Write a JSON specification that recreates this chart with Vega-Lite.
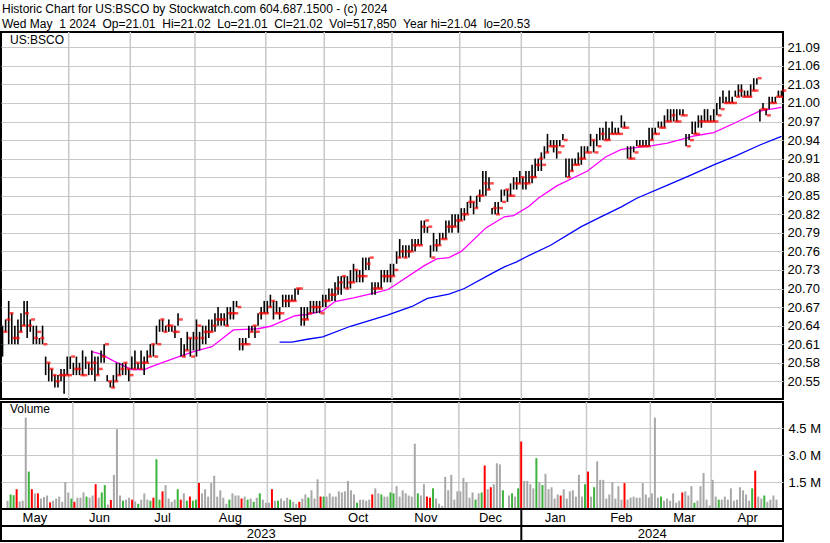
{
"$schema":"https://vega.github.io/schema/vega-lite/v6.json",
"background":"white",
"padding":{"left":0,"top":3,"right":0,"bottom":0},
"bounds":"flush",
"config":{"font":"Liberation Sans","view":{"stroke":"black","strokeWidth":2},"axis":{"labelFont":"Liberation Sans","labelFontSize":13,"labelColor":"#000000","ticks":false,"domain":false,"gridColor":"#c8c8c8","gridWidth":1}},
"title":{"text":["Historic Chart for US:BSCO by Stockwatch.com 604.687.1500 - (c) 2024","Wed May\u00a0\u00a01 2024\u00a0\u00a0Op=21.01\u00a0\u00a0Hi=21.02\u00a0\u00a0Lo=21.01\u00a0\u00a0Cl=21.02\u00a0\u00a0Vol=517,850\u00a0\u00a0Year hi=21.04\u00a0\u00a0lo=20.53"],"anchor":"start","frame":"bounds","font":"Liberation Sans","fontSize":12,"fontWeight":"normal","color":"black","lineHeight":15,"offset":-1,"dx":2},
"resolve":{"scale":{"color":"independent"}},
"datasets":{
"bars":[
{"i":0,"mo":"May","yr":"2023","h":20.64,"l":20.59,"c":20.63,"v":0.46,"k":"n"},
{"i":1,"mo":"May","yr":"2023","h":20.65,"l":20.63,"c":20.65,"v":0.81,"k":"u"},
{"i":2,"mo":"May","yr":"2023","h":20.68,"l":20.61,"c":20.66,"v":0.77,"k":"u"},
{"i":3,"mo":"May","yr":"2023","h":20.66,"l":20.61,"c":20.62,"v":1.1,"k":"d"},
{"i":4,"mo":"May","yr":"2023","h":20.64,"l":20.61,"c":20.62,"v":0.42,"k":"n"},
{"i":5,"mo":"May","yr":"2023","h":20.65,"l":20.61,"c":20.63,"v":0.46,"k":"n"},
{"i":6,"mo":"May","yr":"2023","h":20.66,"l":20.63,"c":20.64,"v":5.08,"k":"n"},
{"i":7,"mo":"May","yr":"2023","h":20.68,"l":20.64,"c":20.66,"v":2.08,"k":"u"},
{"i":8,"mo":"May","yr":"2023","h":20.68,"l":20.62,"c":20.64,"v":1.1,"k":"d"},
{"i":9,"mo":"May","yr":"2023","h":20.65,"l":20.63,"c":20.65,"v":0.87,"k":"n"},
{"i":10,"mo":"May","yr":"2023","h":20.64,"l":20.61,"c":20.62,"v":0.87,"k":"d"},
{"i":11,"mo":"May","yr":"2023","h":20.64,"l":20.61,"c":20.63,"v":0.58,"k":"n"},
{"i":12,"mo":"May","yr":"2023","h":20.62,"l":20.61,"c":20.62,"v":0.67,"k":"n"},
{"i":13,"mo":"May","yr":"2023","h":20.64,"l":20.61,"c":20.61,"v":0.75,"k":"n"},
{"i":14,"mo":"May","yr":"2023","h":20.59,"l":20.56,"c":20.58,"v":0.37,"k":"d"},
{"i":15,"mo":"May","yr":"2023","h":20.58,"l":20.55,"c":20.57,"v":0.46,"k":"n"},
{"i":16,"mo":"May","yr":"2023","h":20.57,"l":20.55,"c":20.56,"v":0.58,"k":"n"},
{"i":17,"mo":"May","yr":"2023","h":20.56,"l":20.54,"c":20.55,"v":0.69,"k":"n"},
{"i":18,"mo":"May","yr":"2023","h":20.56,"l":20.54,"c":20.56,"v":0.40,"k":"n"},
{"i":19,"mo":"May","yr":"2023","h":20.57,"l":20.55,"c":20.56,"v":1.5,"k":"n"},
{"i":20,"mo":"May","yr":"2023","h":20.57,"l":20.53,"c":20.56,"v":0.92,"k":"n"},
{"i":21,"mo":"May","yr":"2023","h":20.59,"l":20.56,"c":20.56,"v":0.58,"k":"u"},
{"i":22,"mo":"Jun","yr":"2023","h":20.59,"l":20.57,"c":20.59,"v":0.40,"k":"d"},
{"i":23,"mo":"Jun","yr":"2023","h":20.58,"l":20.56,"c":20.57,"v":0.63,"k":"n"},
{"i":24,"mo":"Jun","yr":"2023","h":20.59,"l":20.56,"c":20.57,"v":0.63,"k":"n"},
{"i":25,"mo":"Jun","yr":"2023","h":20.58,"l":20.56,"c":20.56,"v":0.92,"k":"n"},
{"i":26,"mo":"Jun","yr":"2023","h":20.60,"l":20.56,"c":20.56,"v":0.69,"k":"u"},
{"i":27,"mo":"Jun","yr":"2023","h":20.59,"l":20.57,"c":20.58,"v":0.63,"k":"n"},
{"i":28,"mo":"Jun","yr":"2023","h":20.58,"l":20.56,"c":20.57,"v":0.75,"k":"n"},
{"i":29,"mo":"Jun","yr":"2023","h":20.60,"l":20.56,"c":20.58,"v":1.38,"k":"d"},
{"i":30,"mo":"Jun","yr":"2023","h":20.59,"l":20.55,"c":20.56,"v":0.63,"k":"n"},
{"i":31,"mo":"Jun","yr":"2023","h":20.59,"l":20.56,"c":20.57,"v":0.92,"k":"u"},
{"i":32,"mo":"Jun","yr":"2023","h":20.60,"l":20.58,"c":20.59,"v":1.33,"k":"u"},
{"i":33,"mo":"Jun","yr":"2023","h":20.61,"l":20.58,"c":20.61,"v":0.25,"k":"n"},
{"i":34,"mo":"Jun","yr":"2023","h":20.56,"l":20.55,"c":20.55,"v":0.50,"k":"d"},
{"i":35,"mo":"Jun","yr":"2023","h":20.55,"l":20.54,"c":20.54,"v":1.9,"k":"n"},
{"i":36,"mo":"Jun","yr":"2023","h":20.56,"l":20.54,"c":20.55,"v":4.44,"k":"n"},
{"i":37,"mo":"Jun","yr":"2023","h":20.58,"l":20.55,"c":20.56,"v":0.75,"k":"n"},
{"i":38,"mo":"Jun","yr":"2023","h":20.58,"l":20.56,"c":20.57,"v":0.46,"k":"u"},
{"i":39,"mo":"Jun","yr":"2023","h":20.58,"l":20.56,"c":20.58,"v":0.52,"k":"n"},
{"i":40,"mo":"Jun","yr":"2023","h":20.58,"l":20.56,"c":20.57,"v":0.63,"k":"n"},
{"i":41,"mo":"Jun","yr":"2023","h":20.57,"l":20.55,"c":20.56,"v":0.52,"k":"d"},
{"i":42,"mo":"Jul","yr":"2023","h":20.59,"l":20.57,"c":20.57,"v":0.42,"k":"n"},
{"i":43,"mo":"Jul","yr":"2023","h":20.60,"l":20.57,"c":20.58,"v":0.29,"k":"u"},
{"i":44,"mo":"Jul","yr":"2023","h":20.58,"l":20.57,"c":20.57,"v":0.52,"k":"n"},
{"i":45,"mo":"Jul","yr":"2023","h":20.60,"l":20.57,"c":20.58,"v":0.87,"k":"n"},
{"i":46,"mo":"Jul","yr":"2023","h":20.59,"l":20.56,"c":20.58,"v":0.52,"k":"n"},
{"i":47,"mo":"Jul","yr":"2023","h":20.60,"l":20.58,"c":20.59,"v":0.46,"k":"u"},
{"i":48,"mo":"Jul","yr":"2023","h":20.61,"l":20.59,"c":20.61,"v":0.63,"k":"d"},
{"i":49,"mo":"Jul","yr":"2023","h":20.61,"l":20.59,"c":20.59,"v":2.77,"k":"u"},
{"i":50,"mo":"Jul","yr":"2023","h":20.64,"l":20.61,"c":20.61,"v":0.52,"k":"u"},
{"i":51,"mo":"Jul","yr":"2023","h":20.65,"l":20.63,"c":20.65,"v":0.98,"k":"d"},
{"i":52,"mo":"Jul","yr":"2023","h":20.65,"l":20.63,"c":20.63,"v":1.33,"k":"n"},
{"i":53,"mo":"Jul","yr":"2023","h":20.64,"l":20.63,"c":20.64,"v":0.58,"k":"n"},
{"i":54,"mo":"Jul","yr":"2023","h":20.65,"l":20.63,"c":20.64,"v":0.40,"k":"n"},
{"i":55,"mo":"Jul","yr":"2023","h":20.64,"l":20.63,"c":20.63,"v":0.52,"k":"n"},
{"i":56,"mo":"Jul","yr":"2023","h":20.64,"l":20.62,"c":20.63,"v":1.1,"k":"u"},
{"i":57,"mo":"Jul","yr":"2023","h":20.66,"l":20.64,"c":20.65,"v":0.52,"k":"d"},
{"i":58,"mo":"Jul","yr":"2023","h":20.62,"l":20.59,"c":20.59,"v":0.87,"k":"n"},
{"i":59,"mo":"Jul","yr":"2023","h":20.61,"l":20.59,"c":20.60,"v":0.46,"k":"u"},
{"i":60,"mo":"Jul","yr":"2023","h":20.63,"l":20.60,"c":20.62,"v":0.69,"k":"d"},
{"i":61,"mo":"Jul","yr":"2023","h":20.62,"l":20.59,"c":20.59,"v":0.46,"k":"u"},
{"i":62,"mo":"Jul","yr":"2023","h":20.63,"l":20.60,"c":20.62,"v":0.52,"k":"u"},
{"i":63,"mo":"Aug","yr":"2023","h":20.65,"l":20.59,"c":20.64,"v":1.44,"k":"d"},
{"i":64,"mo":"Aug","yr":"2023","h":20.63,"l":20.60,"c":20.62,"v":0.87,"k":"n"},
{"i":65,"mo":"Aug","yr":"2023","h":20.64,"l":20.61,"c":20.63,"v":1.1,"k":"n"},
{"i":66,"mo":"Aug","yr":"2023","h":20.64,"l":20.61,"c":20.63,"v":0.69,"k":"n"},
{"i":67,"mo":"Aug","yr":"2023","h":20.65,"l":20.62,"c":20.63,"v":1.44,"k":"n"},
{"i":68,"mo":"Aug","yr":"2023","h":20.65,"l":20.63,"c":20.64,"v":1.85,"k":"n"},
{"i":69,"mo":"Aug","yr":"2023","h":20.66,"l":20.63,"c":20.65,"v":0.69,"k":"n"},
{"i":70,"mo":"Aug","yr":"2023","h":20.67,"l":20.64,"c":20.65,"v":1.04,"k":"n"},
{"i":71,"mo":"Aug","yr":"2023","h":20.66,"l":20.64,"c":20.65,"v":0.63,"k":"n"},
{"i":72,"mo":"Aug","yr":"2023","h":20.66,"l":20.64,"c":20.64,"v":0.29,"k":"n"},
{"i":73,"mo":"Aug","yr":"2023","h":20.67,"l":20.64,"c":20.66,"v":0.52,"k":"u"},
{"i":74,"mo":"Aug","yr":"2023","h":20.67,"l":20.65,"c":20.66,"v":0.87,"k":"n"},
{"i":75,"mo":"Aug","yr":"2023","h":20.68,"l":20.65,"c":20.66,"v":0.75,"k":"n"},
{"i":76,"mo":"Aug","yr":"2023","h":20.68,"l":20.67,"c":20.67,"v":0.75,"k":"n"},
{"i":77,"mo":"Aug","yr":"2023","h":20.62,"l":20.60,"c":20.61,"v":0.58,"k":"d"},
{"i":78,"mo":"Aug","yr":"2023","h":20.62,"l":20.60,"c":20.61,"v":0.69,"k":"n"},
{"i":79,"mo":"Aug","yr":"2023","h":20.62,"l":20.61,"c":20.61,"v":0.52,"k":"u"},
{"i":80,"mo":"Aug","yr":"2023","h":20.64,"l":20.62,"c":20.63,"v":0.58,"k":"n"},
{"i":81,"mo":"Aug","yr":"2023","h":20.64,"l":20.63,"c":20.64,"v":0.40,"k":"u"},
{"i":82,"mo":"Aug","yr":"2023","h":20.64,"l":20.62,"c":20.63,"v":0.63,"k":"n"},
{"i":83,"mo":"Aug","yr":"2023","h":20.66,"l":20.64,"c":20.66,"v":0.87,"k":"u"},
{"i":84,"mo":"Aug","yr":"2023","h":20.67,"l":20.65,"c":20.66,"v":0.52,"k":"n"},
{"i":85,"mo":"Aug","yr":"2023","h":20.68,"l":20.66,"c":20.66,"v":0.35,"k":"n"},
{"i":86,"mo":"Sep","yr":"2023","h":20.68,"l":20.66,"c":20.67,"v":0.35,"k":"n"},
{"i":87,"mo":"Sep","yr":"2023","h":20.69,"l":20.67,"c":20.68,"v":1.1,"k":"d"},
{"i":88,"mo":"Sep","yr":"2023","h":20.68,"l":20.65,"c":20.66,"v":0.46,"k":"n"},
{"i":89,"mo":"Sep","yr":"2023","h":20.68,"l":20.66,"c":20.66,"v":0.46,"k":"u"},
{"i":90,"mo":"Sep","yr":"2023","h":20.67,"l":20.65,"c":20.66,"v":0.58,"k":"n"},
{"i":91,"mo":"Sep","yr":"2023","h":20.69,"l":20.67,"c":20.68,"v":0.46,"k":"n"},
{"i":92,"mo":"Sep","yr":"2023","h":20.69,"l":20.67,"c":20.68,"v":0.63,"k":"n"},
{"i":93,"mo":"Sep","yr":"2023","h":20.69,"l":20.67,"c":20.68,"v":0.52,"k":"u"},
{"i":94,"mo":"Sep","yr":"2023","h":20.69,"l":20.68,"c":20.68,"v":0.40,"k":"n"},
{"i":95,"mo":"Sep","yr":"2023","h":20.70,"l":20.68,"c":20.70,"v":0.29,"k":"n"},
{"i":96,"mo":"Sep","yr":"2023","h":20.70,"l":20.69,"c":20.70,"v":0.40,"k":"d"},
{"i":97,"mo":"Sep","yr":"2023","h":20.67,"l":20.64,"c":20.65,"v":0.58,"k":"n"},
{"i":98,"mo":"Sep","yr":"2023","h":20.67,"l":20.64,"c":20.65,"v":0.81,"k":"n"},
{"i":99,"mo":"Sep","yr":"2023","h":20.67,"l":20.65,"c":20.66,"v":0.63,"k":"u"},
{"i":100,"mo":"Sep","yr":"2023","h":20.68,"l":20.66,"c":20.67,"v":1.04,"k":"n"},
{"i":101,"mo":"Sep","yr":"2023","h":20.68,"l":20.66,"c":20.67,"v":0.58,"k":"n"},
{"i":102,"mo":"Sep","yr":"2023","h":20.68,"l":20.66,"c":20.67,"v":1.65,"k":"n"},
{"i":103,"mo":"Sep","yr":"2023","h":20.68,"l":20.66,"c":20.66,"v":0.69,"k":"d"},
{"i":104,"mo":"Sep","yr":"2023","h":20.69,"l":20.67,"c":20.68,"v":0.69,"k":"u"},
{"i":105,"mo":"Oct","yr":"2023","h":20.69,"l":20.67,"c":20.68,"v":0.69,"k":"n"},
{"i":106,"mo":"Oct","yr":"2023","h":20.70,"l":20.68,"c":20.69,"v":0.87,"k":"n"},
{"i":107,"mo":"Oct","yr":"2023","h":20.70,"l":20.68,"c":20.69,"v":0.69,"k":"n"},
{"i":108,"mo":"Oct","yr":"2023","h":20.71,"l":20.68,"c":20.70,"v":0.69,"k":"n"},
{"i":109,"mo":"Oct","yr":"2023","h":20.72,"l":20.69,"c":20.71,"v":0.98,"k":"n"},
{"i":110,"mo":"Oct","yr":"2023","h":20.72,"l":20.69,"c":20.72,"v":0.92,"k":"n"},
{"i":111,"mo":"Oct","yr":"2023","h":20.72,"l":20.70,"c":20.70,"v":0.98,"k":"n"},
{"i":112,"mo":"Oct","yr":"2023","h":20.72,"l":20.70,"c":20.71,"v":1.56,"k":"n"},
{"i":113,"mo":"Oct","yr":"2023","h":20.73,"l":20.70,"c":20.71,"v":1.04,"k":"n"},
{"i":114,"mo":"Oct","yr":"2023","h":20.74,"l":20.71,"c":20.73,"v":0.81,"k":"n"},
{"i":115,"mo":"Oct","yr":"2023","h":20.73,"l":20.71,"c":20.72,"v":0.35,"k":"u"},
{"i":116,"mo":"Oct","yr":"2023","h":20.73,"l":20.71,"c":20.72,"v":0.52,"k":"n"},
{"i":117,"mo":"Oct","yr":"2023","h":20.75,"l":20.71,"c":20.72,"v":0.52,"k":"n"},
{"i":118,"mo":"Oct","yr":"2023","h":20.75,"l":20.73,"c":20.74,"v":0.46,"k":"n"},
{"i":119,"mo":"Oct","yr":"2023","h":20.75,"l":20.73,"c":20.75,"v":0.52,"k":"n"},
{"i":120,"mo":"Oct","yr":"2023","h":20.71,"l":20.69,"c":20.70,"v":0.81,"k":"d"},
{"i":121,"mo":"Oct","yr":"2023","h":20.71,"l":20.69,"c":20.70,"v":1.15,"k":"n"},
{"i":122,"mo":"Oct","yr":"2023","h":20.71,"l":20.70,"c":20.70,"v":0.87,"k":"n"},
{"i":123,"mo":"Oct","yr":"2023","h":20.73,"l":20.70,"c":20.72,"v":0.81,"k":"u"},
{"i":124,"mo":"Oct","yr":"2023","h":20.73,"l":20.71,"c":20.72,"v":0.69,"k":"n"},
{"i":125,"mo":"Oct","yr":"2023","h":20.73,"l":20.71,"c":20.72,"v":0.69,"k":"n"},
{"i":126,"mo":"Oct","yr":"2023","h":20.74,"l":20.71,"c":20.72,"v":0.92,"k":"u"},
{"i":127,"mo":"Nov","yr":"2023","h":20.74,"l":20.72,"c":20.73,"v":0.87,"k":"u"},
{"i":128,"mo":"Nov","yr":"2023","h":20.76,"l":20.74,"c":20.75,"v":1.27,"k":"n"},
{"i":129,"mo":"Nov","yr":"2023","h":20.78,"l":20.75,"c":20.76,"v":0.69,"k":"n"},
{"i":130,"mo":"Nov","yr":"2023","h":20.77,"l":20.75,"c":20.75,"v":1.04,"k":"n"},
{"i":131,"mo":"Nov","yr":"2023","h":20.77,"l":20.75,"c":20.76,"v":0.87,"k":"n"},
{"i":132,"mo":"Nov","yr":"2023","h":20.77,"l":20.75,"c":20.76,"v":0.75,"k":"n"},
{"i":133,"mo":"Nov","yr":"2023","h":20.78,"l":20.76,"c":20.77,"v":0.69,"k":"n"},
{"i":134,"mo":"Nov","yr":"2023","h":20.78,"l":20.76,"c":20.77,"v":3.63,"k":"n"},
{"i":135,"mo":"Nov","yr":"2023","h":20.78,"l":20.77,"c":20.77,"v":0.87,"k":"u"},
{"i":136,"mo":"Nov","yr":"2023","h":20.81,"l":20.77,"c":20.80,"v":0.75,"k":"n"},
{"i":137,"mo":"Nov","yr":"2023","h":20.81,"l":20.79,"c":20.81,"v":1.38,"k":"n"},
{"i":138,"mo":"Nov","yr":"2023","h":20.80,"l":20.79,"c":20.80,"v":0.69,"k":"d"},
{"i":139,"mo":"Nov","yr":"2023","h":20.77,"l":20.75,"c":20.75,"v":0.63,"k":"d"},
{"i":140,"mo":"Nov","yr":"2023","h":20.79,"l":20.76,"c":20.77,"v":1.15,"k":"u"},
{"i":141,"mo":"Nov","yr":"2023","h":20.78,"l":20.76,"c":20.77,"v":0.58,"k":"n"},
{"i":142,"mo":"Nov","yr":"2023","h":20.79,"l":20.77,"c":20.78,"v":0.30,"k":"n"},
{"i":143,"mo":"Nov","yr":"2023","h":20.79,"l":20.78,"c":20.78,"v":0.17,"k":"n"},
{"i":144,"mo":"Nov","yr":"2023","h":20.81,"l":20.78,"c":20.80,"v":1.79,"k":"n"},
{"i":145,"mo":"Nov","yr":"2023","h":20.81,"l":20.79,"c":20.80,"v":1.04,"k":"n"},
{"i":146,"mo":"Nov","yr":"2023","h":20.82,"l":20.79,"c":20.80,"v":1.9,"k":"n"},
{"i":147,"mo":"Nov","yr":"2023","h":20.82,"l":20.80,"c":20.81,"v":0.52,"k":"n"},
{"i":148,"mo":"Nov","yr":"2023","h":20.82,"l":20.79,"c":20.81,"v":0.98,"k":"n"},
{"i":149,"mo":"Dec","yr":"2023","h":20.83,"l":20.81,"c":20.82,"v":0.98,"k":"n"},
{"i":150,"mo":"Dec","yr":"2023","h":20.83,"l":20.81,"c":20.82,"v":1.73,"k":"n"},
{"i":151,"mo":"Dec","yr":"2023","h":20.84,"l":20.82,"c":20.84,"v":1.5,"k":"n"},
{"i":152,"mo":"Dec","yr":"2023","h":20.85,"l":20.83,"c":20.84,"v":0.63,"k":"n"},
{"i":153,"mo":"Dec","yr":"2023","h":20.84,"l":20.82,"c":20.83,"v":0.92,"k":"n"},
{"i":154,"mo":"Dec","yr":"2023","h":20.85,"l":20.83,"c":20.85,"v":0.52,"k":"u"},
{"i":155,"mo":"Dec","yr":"2023","h":20.86,"l":20.84,"c":20.85,"v":0.87,"k":"n"},
{"i":156,"mo":"Dec","yr":"2023","h":20.89,"l":20.85,"c":20.87,"v":0.92,"k":"u"},
{"i":157,"mo":"Dec","yr":"2023","h":20.89,"l":20.85,"c":20.86,"v":2.42,"k":"d"},
{"i":158,"mo":"Dec","yr":"2023","h":20.88,"l":20.86,"c":20.87,"v":1.1,"k":"n"},
{"i":159,"mo":"Dec","yr":"2023","h":20.83,"l":20.82,"c":20.83,"v":1.21,"k":"d"},
{"i":160,"mo":"Dec","yr":"2023","h":20.84,"l":20.82,"c":20.82,"v":1.38,"k":"n"},
{"i":161,"mo":"Dec","yr":"2023","h":20.84,"l":20.82,"c":20.83,"v":2.54,"k":"n"},
{"i":162,"mo":"Dec","yr":"2023","h":20.86,"l":20.84,"c":20.84,"v":2.48,"k":"n"},
{"i":163,"mo":"Dec","yr":"2023","h":20.86,"l":20.85,"c":20.86,"v":1.04,"k":"u"},
{"i":164,"mo":"Dec","yr":"2023","h":20.86,"l":20.84,"c":20.85,"v":0,"k":"n"},
{"i":165,"mo":"Dec","yr":"2023","h":20.87,"l":20.85,"c":20.85,"v":0.75,"k":"n"},
{"i":166,"mo":"Dec","yr":"2023","h":20.88,"l":20.86,"c":20.87,"v":0.87,"k":"u"},
{"i":167,"mo":"Dec","yr":"2023","h":20.88,"l":20.86,"c":20.87,"v":0.69,"k":"n"},
{"i":168,"mo":"Dec","yr":"2023","h":20.89,"l":20.87,"c":20.88,"v":1.15,"k":"u"},
{"i":169,"mo":"Jan","yr":"2024","h":20.88,"l":20.86,"c":20.87,"v":3.75,"k":"d"},
{"i":170,"mo":"Jan","yr":"2024","h":20.89,"l":20.86,"c":20.87,"v":1.56,"k":"n"},
{"i":171,"mo":"Jan","yr":"2024","h":20.89,"l":20.87,"c":20.88,"v":1.56,"k":"n"},
{"i":172,"mo":"Jan","yr":"2024","h":20.90,"l":20.87,"c":20.88,"v":1.38,"k":"n"},
{"i":173,"mo":"Jan","yr":"2024","h":20.91,"l":20.88,"c":20.90,"v":1.15,"k":"n"},
{"i":174,"mo":"Jan","yr":"2024","h":20.91,"l":20.89,"c":20.91,"v":2.83,"k":"u"},
{"i":175,"mo":"Jan","yr":"2024","h":20.92,"l":20.89,"c":20.90,"v":1.5,"k":"n"},
{"i":176,"mo":"Jan","yr":"2024","h":20.93,"l":20.91,"c":20.92,"v":1.33,"k":"u"},
{"i":177,"mo":"Jan","yr":"2024","h":20.95,"l":20.92,"c":20.93,"v":1.96,"k":"n"},
{"i":178,"mo":"Jan","yr":"2024","h":20.94,"l":20.93,"c":20.93,"v":1.1,"k":"n"},
{"i":179,"mo":"Jan","yr":"2024","h":20.94,"l":20.92,"c":20.93,"v":1.21,"k":"n"},
{"i":180,"mo":"Jan","yr":"2024","h":20.94,"l":20.91,"c":20.92,"v":0.58,"k":"n"},
{"i":181,"mo":"Jan","yr":"2024","h":20.94,"l":20.93,"c":20.93,"v":0.81,"k":"n"},
{"i":182,"mo":"Jan","yr":"2024","h":20.95,"l":20.94,"c":20.94,"v":0.75,"k":"d"},
{"i":183,"mo":"Jan","yr":"2024","h":20.91,"l":20.88,"c":20.88,"v":1.1,"k":"n"},
{"i":184,"mo":"Jan","yr":"2024","h":20.91,"l":20.88,"c":20.89,"v":0.58,"k":"n"},
{"i":185,"mo":"Jan","yr":"2024","h":20.91,"l":20.89,"c":20.90,"v":0.98,"k":"n"},
{"i":186,"mo":"Jan","yr":"2024","h":20.91,"l":20.90,"c":20.90,"v":1.04,"k":"n"},
{"i":187,"mo":"Jan","yr":"2024","h":20.92,"l":20.90,"c":20.91,"v":0.69,"k":"n"},
{"i":188,"mo":"Jan","yr":"2024","h":20.93,"l":20.90,"c":20.91,"v":1.9,"k":"n"},
{"i":189,"mo":"Jan","yr":"2024","h":20.93,"l":20.91,"c":20.92,"v":0.69,"k":"n"},
{"i":190,"mo":"Jan","yr":"2024","h":20.93,"l":20.92,"c":20.92,"v":1.38,"k":"u"},
{"i":191,"mo":"Feb","yr":"2024","h":20.95,"l":20.93,"c":20.94,"v":2.08,"k":"d"},
{"i":192,"mo":"Feb","yr":"2024","h":20.94,"l":20.92,"c":20.92,"v":0.69,"k":"n"},
{"i":193,"mo":"Feb","yr":"2024","h":20.95,"l":20.93,"c":20.93,"v":1.21,"k":"u"},
{"i":194,"mo":"Feb","yr":"2024","h":20.96,"l":20.94,"c":20.95,"v":2.65,"k":"n"},
{"i":195,"mo":"Feb","yr":"2024","h":20.96,"l":20.94,"c":20.94,"v":1.62,"k":"n"},
{"i":196,"mo":"Feb","yr":"2024","h":20.97,"l":20.94,"c":20.94,"v":1.62,"k":"n"},
{"i":197,"mo":"Feb","yr":"2024","h":20.96,"l":20.94,"c":20.95,"v":0.58,"k":"n"},
{"i":198,"mo":"Feb","yr":"2024","h":20.97,"l":20.95,"c":20.95,"v":0.81,"k":"n"},
{"i":199,"mo":"Feb","yr":"2024","h":20.96,"l":20.95,"c":20.95,"v":1.5,"k":"n"},
{"i":200,"mo":"Feb","yr":"2024","h":20.96,"l":20.95,"c":20.95,"v":0.58,"k":"n"},
{"i":201,"mo":"Feb","yr":"2024","h":20.98,"l":20.96,"c":20.96,"v":1.27,"k":"n"},
{"i":202,"mo":"Feb","yr":"2024","h":20.97,"l":20.96,"c":20.96,"v":0.52,"k":"n"},
{"i":203,"mo":"Feb","yr":"2024","h":20.93,"l":20.91,"c":20.91,"v":1.44,"k":"d"},
{"i":204,"mo":"Feb","yr":"2024","h":20.93,"l":20.91,"c":20.91,"v":0.52,"k":"n"},
{"i":205,"mo":"Feb","yr":"2024","h":20.93,"l":20.92,"c":20.92,"v":0.63,"k":"n"},
{"i":206,"mo":"Feb","yr":"2024","h":20.94,"l":20.93,"c":20.93,"v":0.69,"k":"n"},
{"i":207,"mo":"Feb","yr":"2024","h":20.94,"l":20.93,"c":20.93,"v":0.63,"k":"n"},
{"i":208,"mo":"Feb","yr":"2024","h":20.94,"l":20.93,"c":20.93,"v":0.63,"k":"n"},
{"i":209,"mo":"Feb","yr":"2024","h":20.94,"l":20.93,"c":20.93,"v":1.44,"k":"n"},
{"i":210,"mo":"Feb","yr":"2024","h":20.96,"l":20.93,"c":20.94,"v":0.81,"k":"n"},
{"i":211,"mo":"Feb","yr":"2024","h":20.96,"l":20.94,"c":20.95,"v":0.63,"k":"n"},
{"i":212,"mo":"Mar","yr":"2024","h":20.96,"l":20.95,"c":20.95,"v":0.87,"k":"n"},
{"i":213,"mo":"Mar","yr":"2024","h":20.97,"l":20.96,"c":20.96,"v":5.08,"k":"n"},
{"i":214,"mo":"Mar","yr":"2024","h":20.97,"l":20.96,"c":20.96,"v":0.63,"k":"n"},
{"i":215,"mo":"Mar","yr":"2024","h":20.98,"l":20.96,"c":20.97,"v":0.69,"k":"u"},
{"i":216,"mo":"Mar","yr":"2024","h":20.99,"l":20.97,"c":20.97,"v":0.46,"k":"n"},
{"i":217,"mo":"Mar","yr":"2024","h":20.99,"l":20.97,"c":20.98,"v":0.58,"k":"n"},
{"i":218,"mo":"Mar","yr":"2024","h":20.99,"l":20.97,"c":20.97,"v":0.46,"k":"n"},
{"i":219,"mo":"Mar","yr":"2024","h":20.99,"l":20.97,"c":20.97,"v":0.87,"k":"n"},
{"i":220,"mo":"Mar","yr":"2024","h":20.99,"l":20.98,"c":20.98,"v":0.35,"k":"n"},
{"i":221,"mo":"Mar","yr":"2024","h":20.99,"l":20.98,"c":20.98,"v":0.46,"k":"n"},
{"i":222,"mo":"Mar","yr":"2024","h":20.95,"l":20.93,"c":20.93,"v":0.92,"k":"d"},
{"i":223,"mo":"Mar","yr":"2024","h":20.95,"l":20.94,"c":20.94,"v":0.98,"k":"n"},
{"i":224,"mo":"Mar","yr":"2024","h":20.97,"l":20.95,"c":20.95,"v":0.75,"k":"n"},
{"i":225,"mo":"Mar","yr":"2024","h":20.97,"l":20.95,"c":20.95,"v":1.27,"k":"n"},
{"i":226,"mo":"Mar","yr":"2024","h":20.98,"l":20.96,"c":20.97,"v":0.35,"k":"u"},
{"i":227,"mo":"Mar","yr":"2024","h":20.98,"l":20.96,"c":20.97,"v":0.46,"k":"n"},
{"i":228,"mo":"Mar","yr":"2024","h":20.99,"l":20.97,"c":20.97,"v":1.27,"k":"n"},
{"i":229,"mo":"Mar","yr":"2024","h":20.99,"l":20.97,"c":20.97,"v":2.0,"k":"n"},
{"i":230,"mo":"Mar","yr":"2024","h":20.98,"l":20.97,"c":20.97,"v":0.52,"k":"n"},
{"i":231,"mo":"Mar","yr":"2024","h":20.99,"l":20.97,"c":20.97,"v":0.2,"k":"n"},
{"i":232,"mo":"Apr","yr":"2024","h":21.00,"l":20.98,"c":20.98,"v":1.62,"k":"n"},
{"i":233,"mo":"Apr","yr":"2024","h":21.01,"l":20.99,"c":20.99,"v":0.69,"k":"n"},
{"i":234,"mo":"Apr","yr":"2024","h":21.02,"l":21.00,"c":21.00,"v":0.52,"k":"u"},
{"i":235,"mo":"Apr","yr":"2024","h":21.01,"l":21.00,"c":21.00,"v":0.52,"k":"n"},
{"i":236,"mo":"Apr","yr":"2024","h":21.02,"l":21.00,"c":21.00,"v":0.69,"k":"n"},
{"i":237,"mo":"Apr","yr":"2024","h":21.01,"l":21.00,"c":21.00,"v":0.52,"k":"n"},
{"i":238,"mo":"Apr","yr":"2024","h":21.02,"l":21.01,"c":21.01,"v":1.15,"k":"n"},
{"i":239,"mo":"Apr","yr":"2024","h":21.03,"l":21.01,"c":21.02,"v":0.46,"k":"n"},
{"i":240,"mo":"Apr","yr":"2024","h":21.03,"l":21.01,"c":21.01,"v":0.52,"k":"n"},
{"i":241,"mo":"Apr","yr":"2024","h":21.02,"l":21.01,"c":21.01,"v":1.21,"k":"n"},
{"i":242,"mo":"Apr","yr":"2024","h":21.02,"l":21.01,"c":21.01,"v":1.04,"k":"n"},
{"i":243,"mo":"Apr","yr":"2024","h":21.03,"l":21.01,"c":21.02,"v":0.81,"k":"n"},
{"i":244,"mo":"Apr","yr":"2024","h":21.04,"l":21.02,"c":21.02,"v":0.46,"k":"n"},
{"i":245,"mo":"Apr","yr":"2024","h":21.04,"l":21.03,"c":21.04,"v":1.15,"k":"u"},
{"i":246,"mo":"Apr","yr":"2024","h":20.99,"l":20.97,"c":20.99,"v":2.13,"k":"d"},
{"i":247,"mo":"Apr","yr":"2024","h":21.00,"l":20.99,"c":20.99,"v":0.69,"k":"n"},
{"i":248,"mo":"Apr","yr":"2024","h":20.99,"l":20.98,"c":20.98,"v":0.58,"k":"n"},
{"i":249,"mo":"Apr","yr":"2024","h":21.01,"l":20.99,"c":21.00,"v":0.75,"k":"u"},
{"i":250,"mo":"Apr","yr":"2024","h":21.01,"l":21.00,"c":21.00,"v":0.40,"k":"n"},
{"i":251,"mo":"Apr","yr":"2024","h":21.01,"l":21.00,"c":21.01,"v":0.52,"k":"n"},
{"i":252,"mo":"Apr","yr":"2024","h":21.02,"l":21.01,"c":21.01,"v":0.75,"k":"n"},
{"i":253,"mo":"May","yr":"2024","h":21.02,"l":21.01,"c":21.02,"v":0.52,"k":"n"}
],
"ma":[
{"i":29,"p":20.598,"s":"m"},{"i":32,"p":20.594,"s":"m"},{"i":36,"p":20.583,"s":"m"},{"i":42,"p":20.569,"s":"m"},{"i":46,"p":20.569,"s":"m"},{"i":49,"p":20.575,"s":"m"},{"i":55,"p":20.586,"s":"m"},{"i":62,"p":20.598,"s":"m"},{"i":68,"p":20.606,"s":"m"},{"i":75,"p":20.633,"s":"m"},{"i":83,"p":20.635,"s":"m"},{"i":87,"p":20.639,"s":"m"},{"i":95,"p":20.656,"s":"m"},{"i":99,"p":20.658,"s":"m"},{"i":104,"p":20.664,"s":"m"},{"i":108,"p":20.679,"s":"m"},{"i":114,"p":20.685,"s":"m"},{"i":121,"p":20.693,"s":"m"},{"i":125,"p":20.698,"s":"m"},{"i":127,"p":20.704,"s":"m"},{"i":137,"p":20.737,"s":"m"},{"i":141,"p":20.748,"s":"m"},{"i":145,"p":20.750,"s":"m"},{"i":149,"p":20.760,"s":"m"},{"i":157,"p":20.798,"s":"m"},{"i":163,"p":20.816,"s":"m"},{"i":166,"p":20.818,"s":"m"},{"i":171,"p":20.833,"s":"m"},{"i":174,"p":20.846,"s":"m"},{"i":180,"p":20.866,"s":"m"},{"i":190,"p":20.890,"s":"m"},{"i":196,"p":20.913,"s":"m"},{"i":201,"p":20.925,"s":"m"},{"i":211,"p":20.931,"s":"m"},{"i":216,"p":20.935,"s":"m"},{"i":225,"p":20.947,"s":"m"},{"i":231,"p":20.952,"s":"m"},{"i":238,"p":20.968,"s":"m"},{"i":246,"p":20.987,"s":"m"},{"i":253,"p":20.993,"s":"m"},
{"i":90,"p":20.6135,"s":"b"},{"i":94,"p":20.6135,"s":"b"},{"i":99,"p":20.618,"s":"b"},{"i":104,"p":20.622,"s":"b"},{"i":113,"p":20.639,"s":"b"},{"i":125,"p":20.657,"s":"b"},{"i":133,"p":20.671,"s":"b"},{"i":138,"p":20.684,"s":"b"},{"i":145,"p":20.691,"s":"b"},{"i":150,"p":20.700,"s":"b"},{"i":159,"p":20.7245,"s":"b"},{"i":163,"p":20.735,"s":"b"},{"i":167,"p":20.743,"s":"b"},{"i":170,"p":20.751,"s":"b"},{"i":178,"p":20.770,"s":"b"},{"i":188,"p":20.800,"s":"b"},{"i":194,"p":20.815,"s":"b"},{"i":201,"p":20.832,"s":"b"},{"i":206,"p":20.846,"s":"b"},{"i":216,"p":20.867,"s":"b"},{"i":223,"p":20.882,"s":"b"},{"i":231,"p":20.900,"s":"b"},{"i":238,"p":20.914,"s":"b"},{"i":246,"p":20.932,"s":"b"},{"i":253,"p":20.946,"s":"b"}
]
},
"spacing":3,
"vconcat":[
{
"width":782,"height":367,
"title":{"text":"US:BSCO","anchor":"start","offset":-16,"dx":9,"fontSize":12,"fontWeight":"normal","font":"Liberation Sans","color":"black"},
"layer":[
{"data":{"name":"bars"},
"transform":[{"aggregate":[{"op":"min","field":"i","as":"mi"},{"op":"count","as":"n"}],"groupby":["mo","yr"]},{"filter":"datum.mi > 0 && datum.n > 1"}],
"mark":{"type":"rule","color":"#c8c8c8","strokeWidth":1.5,"xOffset":-1.54},
"encoding":{"x":{"field":"mi","type":"quantitative","scale":{"domain":[-0.5,253.5],"nice":false,"zero":false},"axis":null}}},
{"data":{"name":"ma"},
"mark":{"type":"line","strokeWidth":1.3},
"encoding":{"x":{"field":"i","type":"quantitative","scale":{"domain":[-0.5,253.5],"nice":false,"zero":false},"axis":null},
"y":{"field":"p","type":"quantitative","scale":{"domain":[20.5214,21.1147],"nice":false,"zero":false},"axis":{"orient":"right","values":[20.55,20.58,20.61,20.64,20.67,20.70,20.73,20.76,20.79,20.82,20.85,20.88,20.91,20.94,20.97,21.00,21.03,21.06,21.09],"format":".2f","labelPadding":4,"grid":true,"title":null}},
"color":{"field":"s","type":"nominal","scale":{"domain":["m","b"],"range":["#ff00ff","#0000ff"]},"legend":null}}},
{"data":{"name":"bars"},
"mark":{"type":"rule","color":"#000000","strokeWidth":1.6},
"encoding":{"x":{"field":"i","type":"quantitative","scale":{"domain":[-0.5,253.5],"nice":false,"zero":false},"axis":null},
"y":{"field":"l","type":"quantitative","scale":{"domain":[20.5214,21.1147],"nice":false,"zero":false},"axis":{"orient":"right","values":[20.55,20.58,20.61,20.64,20.67,20.70,20.73,20.76,20.79,20.82,20.85,20.88,20.91,20.94,20.97,21.00,21.03,21.06,21.09],"format":".2f","labelPadding":4,"grid":true,"title":null}},
"y2":{"field":"h"}}},
{"data":{"name":"bars"},
"mark":{"type":"tick","color":"#ff0000","orient":"horizontal","size":4,"thickness":2.5,"xOffset":2.8},
"encoding":{"x":{"field":"i","type":"quantitative","scale":{"domain":[-0.5,253.5],"nice":false,"zero":false},"axis":null},
"y":{"field":"c","type":"quantitative","scale":{"domain":[20.5214,21.1147],"nice":false,"zero":false},"axis":{"orient":"right","values":[20.55,20.58,20.61,20.64,20.67,20.70,20.73,20.76,20.79,20.82,20.85,20.88,20.91,20.94,20.97,21.00,21.03,21.06,21.09],"format":".2f","labelPadding":4,"grid":true,"title":null}}}}
]
},
{
"spacing":0,
"bounds":"flush",
"resolve":{"scale":{"color":"independent"}},
"vconcat":[
{
"width":782,"height":107,
"title":{"text":"Volume","anchor":"start","offset":-15,"dx":9,"fontSize":12,"fontWeight":"normal","font":"Liberation Sans","color":"black"},
"layer":[
{"data":{"name":"bars"},
"transform":[{"aggregate":[{"op":"min","field":"i","as":"mi"},{"op":"count","as":"n"}],"groupby":["mo","yr"]},{"filter":"datum.mi > 0 && datum.n > 1"}],
"mark":{"type":"rule","color":"#c8c8c8","strokeWidth":1.5,"xOffset":-1.54},
"encoding":{"x":{"field":"mi","type":"quantitative","scale":{"domain":[-0.5,253.5],"nice":false,"zero":false},"axis":null}}},
{"data":{"name":"bars"},
"mark":{"type":"bar","width":2},
"encoding":{"x":{"field":"i","type":"quantitative","scale":{"domain":[-0.5,253.5],"nice":false,"zero":false},"axis":null},
"y":{"field":"v","type":"quantitative","scale":{"domain":[0,5.95],"nice":false,"zero":true},"axis":{"orient":"right","values":[1.5,3,4.5],"labelExpr":"format(datum.value,'.1f') + ' M'","labelPadding":5,"grid":true,"title":null}},
"color":{"field":"k","type":"nominal","scale":{"domain":["n","u","d"],"range":["#a8a8a8","#3cb43c","#ff0000"]},"legend":null}}}
]
},
{
"width":782,"height":17,
"layer":[
{"data":{"name":"bars"},
"transform":[{"aggregate":[{"op":"mean","field":"i","as":"ci"},{"op":"count","as":"n"}],"groupby":["mo","yr"]},{"filter":"datum.n > 1"}],
"mark":{"type":"text","fontSize":13,"font":"Liberation Sans","color":"#000000"},
"encoding":{"x":{"field":"ci","type":"quantitative","scale":{"domain":[-0.5,253.5],"nice":false,"zero":false},"axis":null},"text":{"field":"mo","type":"nominal"}}},
{"data":{"name":"bars"},
"transform":[{"aggregate":[{"op":"min","field":"i","as":"mi"}],"groupby":["yr"]},{"filter":"datum.mi > 0"}],
"mark":{"type":"rule","color":"#000000","strokeWidth":2,"xOffset":-1.54},
"encoding":{"x":{"field":"mi","type":"quantitative","scale":{"domain":[-0.5,253.5],"nice":false,"zero":false},"axis":null}}}
]
},
{
"width":782,"height":15,
"layer":[
{"data":{"name":"bars"},
"transform":[{"aggregate":[{"op":"mean","field":"i","as":"ci"}],"groupby":["yr"]}],
"mark":{"type":"text","fontSize":13,"font":"Liberation Sans","color":"#000000"},
"encoding":{"x":{"field":"ci","type":"quantitative","scale":{"domain":[-0.5,253.5],"nice":false,"zero":false},"axis":null},"text":{"field":"yr","type":"nominal"}}},
{"data":{"name":"bars"},
"transform":[{"aggregate":[{"op":"min","field":"i","as":"mi"}],"groupby":["yr"]},{"filter":"datum.mi > 0"}],
"mark":{"type":"rule","color":"#000000","strokeWidth":2,"xOffset":-1.54},
"encoding":{"x":{"field":"mi","type":"quantitative","scale":{"domain":[-0.5,253.5],"nice":false,"zero":false},"axis":null}}}
]
}
]
}
]
}
